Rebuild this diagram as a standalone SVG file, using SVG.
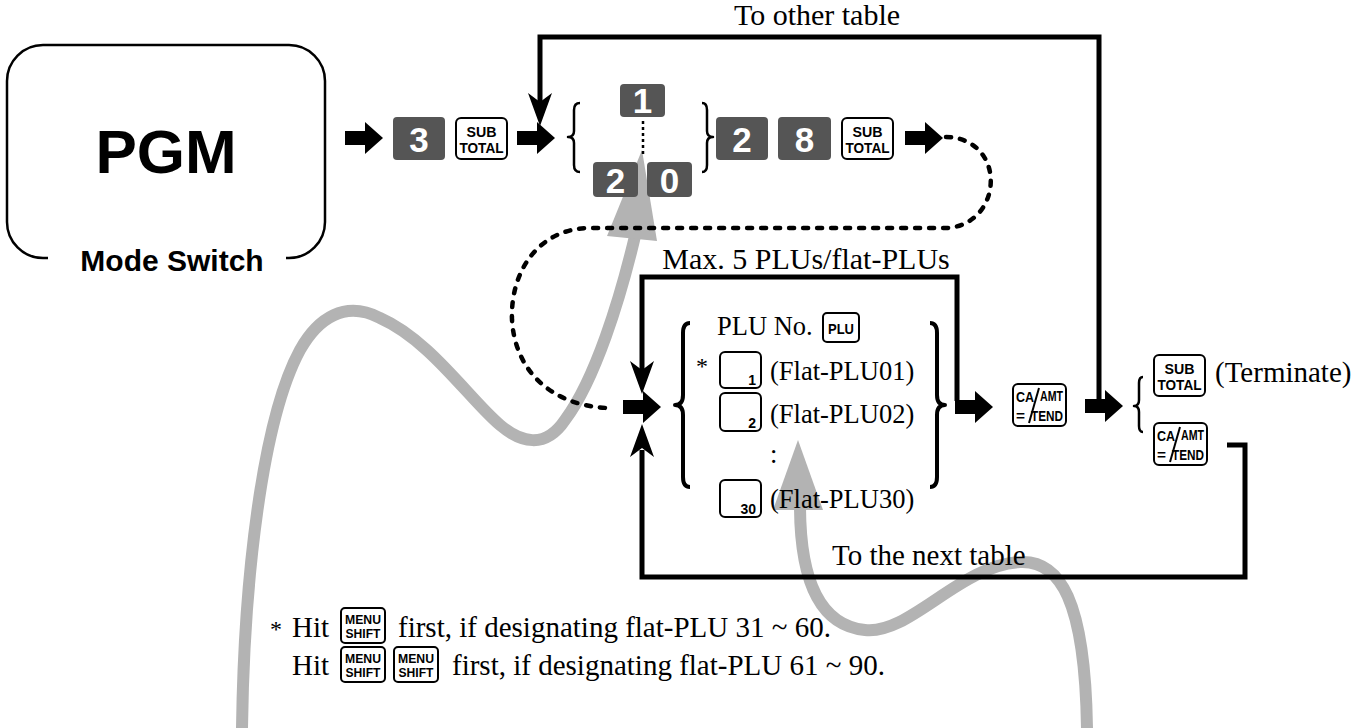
<svg xmlns="http://www.w3.org/2000/svg" xmlns:xlink="http://www.w3.org/1999/xlink" width="1369" height="728" viewBox="0 0 1369 728">
<style>
.ser{font-family:"Liberation Serif","Times New Roman",serif;fill:#000}
.dk{fill:#555}
.dig{font-family:"Liberation Sans",Arial,sans-serif;font-weight:bold;font-size:35px;fill:#fff;text-anchor:middle}
.wk{fill:#fff;stroke:#000;stroke-width:2}
.kl{font-family:"Liberation Sans",Arial,sans-serif;font-weight:bold;fill:#000;text-anchor:middle}
.kls{font-family:"Liberation Sans",Arial,sans-serif;font-weight:bold;fill:#000}
.kn{font-family:"Liberation Sans",Arial,sans-serif;font-weight:bold;font-size:14px;fill:#000;text-anchor:end}
.ln{fill:none;stroke:#000;stroke-width:5}
.br{fill:none;stroke:#000;stroke-width:2.5;stroke-linejoin:round}
.bbr{fill:none;stroke:#000;stroke-width:4;stroke-linejoin:round}
.gray{fill:none;stroke:#b3b3b3;stroke-width:12}
</style>
<defs>
<path id="barrow" d="M0,-7 H20 V-16 L38,0 L20,16 V7 H0 Z" fill="#000"/>
<path id="ahd" d="M0,0 L-12,-33 L0,-24 L12,-33 Z" fill="#000"/>
<g id="subtotal">
<rect x="0" y="0" width="51" height="41" rx="5" class="wk"/>
<text x="25.5" y="19" class="kl" font-size="15" textLength="30" lengthAdjust="spacingAndGlyphs">SUB</text>
<text x="25.5" y="35" class="kl" font-size="15" textLength="44" lengthAdjust="spacingAndGlyphs">TOTAL</text>
</g>
<g id="caamt">
<rect x="0" y="0" width="53" height="42" rx="5" class="wk"/>
<text x="3" y="18" class="kls" font-size="15" textLength="18" lengthAdjust="spacingAndGlyphs">CA</text>
<text x="27" y="17" class="kls" font-size="15" textLength="23" lengthAdjust="spacingAndGlyphs">AMT</text>
<path d="M26,4 L16,39" stroke="#000" stroke-width="2"/>
<text x="3" y="37" class="kls" font-size="15" textLength="9" lengthAdjust="spacingAndGlyphs">=</text>
<text x="18" y="37" class="kls" font-size="15" textLength="32" lengthAdjust="spacingAndGlyphs">TEND</text>
</g>
<g id="menushift">
<rect x="0" y="0" width="44" height="35" rx="4" class="wk"/>
<text x="22" y="16" class="kl" font-size="13" textLength="36" lengthAdjust="spacingAndGlyphs">MENU</text>
<text x="22" y="30" class="kl" font-size="13" textLength="35" lengthAdjust="spacingAndGlyphs">SHIFT</text>
</g>
</defs>
<rect width="1369" height="728" fill="#fff"/>

<g id="connectors">
<path class="gray" d="M242 728 C244 580 262 420 300 350 C318 318 345 300 380 318 C430 340 470 400 500 425 C520 442 545 450 565 420 C595 380 620 300 636 232"/>
<polygon points="642,150 607,236 657,241" fill="#b3b3b3"/>
<path class="gray" d="M1087 728 C1085 600 1060 560 1020 562 C960 565 910 635 865 630 C815 625 800 570 800 505"/>
<polygon points="798,440 773,510 823,510" fill="#b3b3b3"/>
<path class="ln" d="M540 102 V37 H1099 V401"/>
<use xlink:href="#ahd" x="540" y="126"/>
<path class="ln" d="M642 370 V277 H957 V401"/>
<use xlink:href="#ahd" x="642" y="394"/>
<path class="ln" d="M642 450 V577 H1245 V445 H1227"/>
<use xlink:href="#ahd" transform="translate(642,424) rotate(180)"/>
<path d="M946 137 C975 137 995 160 990 190 C985 215 965 228 945 228 L590 228 C540 228 510 270 512 320 C515 370 550 405 607 408" fill="none" stroke="#000" stroke-width="4.5" stroke-dasharray="5 9" stroke-linecap="round"/>
<path d="M643 121 V157" stroke="#000" stroke-width="2.5" stroke-dasharray="3 3"/>
<use xlink:href="#barrow" x="345" y="138"/>
<use xlink:href="#barrow" x="517" y="138"/>
<use xlink:href="#barrow" x="905" y="138"/>
<use xlink:href="#barrow" x="623" y="407"/>
<use xlink:href="#barrow" x="955" y="407"/>
<use xlink:href="#barrow" x="1085" y="406"/>
</g>

<g id="pgm">
<path d="M48 258 H43 A36 36 0 0 1 7 222 V81 A36 36 0 0 1 43 45 H289 A36 36 0 0 1 325 81 V222 A36 36 0 0 1 289 258 H286" fill="none" stroke="#000" stroke-width="2.5"/>
<text x="166" y="173" font-family="Liberation Sans, Arial, sans-serif" font-weight="bold" font-size="62" text-anchor="middle">PGM</text>
<text x="172" y="271" font-family="Liberation Sans, Arial, sans-serif" font-weight="bold" font-size="30" text-anchor="middle">Mode Switch</text>
</g>

<g id="key-3"><rect x="393" y="117" width="52" height="43" rx="4" class="dk"/><text x="419" y="152" class="dig">3</text></g>
<g id="key-subtotal-1"><use xlink:href="#subtotal" x="456" y="118"/></g>

<g id="table-select">
<path class="br" d="M580 103 Q574 103 574 110 V131 Q574 137 568 137 Q574 137 574 143 V165 Q574 172 580 172"/>
<rect x="620" y="84" width="45" height="33" rx="4" class="dk"/><text x="642.5" y="113" class="dig">1</text>
<rect x="593" y="162" width="45" height="35" rx="4" class="dk"/><text x="615.5" y="193" class="dig">2</text>
<rect x="647" y="162" width="45" height="35" rx="4" class="dk"/><text x="669.5" y="193" class="dig">0</text>
<path class="br" d="M702 103 Q707 103 707 110 V131 Q707 137 713 137 Q707 137 707 143 V165 Q707 172 702 172"/>
</g>

<g id="key-28">
<rect x="716" y="117" width="52" height="43" rx="4" class="dk"/><text x="742" y="152" class="dig">2</text>
<rect x="778" y="117" width="53" height="43" rx="4" class="dk"/><text x="804.5" y="152" class="dig">8</text>
</g>
<g id="key-subtotal-2"><use xlink:href="#subtotal" x="842" y="118"/></g>

<g id="labels">
<text x="817" y="25" class="ser" font-size="30" text-anchor="middle">To other table</text>
<text x="806" y="269" class="ser" font-size="30" text-anchor="middle">Max. 5 PLUs/flat-PLUs</text>
<text x="832" y="565" class="ser" font-size="29">To the next table</text>
</g>

<g id="plu-list">
<path class="bbr" d="M690 323 Q683 323 683 333 V395 Q683 405 675 405 Q683 405 683 415 V477 Q683 487 690 487"/>
<text x="717" y="335" class="ser" font-size="26.5">PLU No.</text>
<rect x="823" y="313" width="36" height="29" rx="4" class="wk"/><text x="841" y="334" class="kl" font-size="14" textLength="26" lengthAdjust="spacingAndGlyphs">PLU</text>
<text x="696" y="374" class="ser" font-size="24">*</text>
<rect x="720" y="352" width="41" height="36" rx="5" class="wk"/><text x="756" y="385" class="kn">1</text>
<text x="770" y="380" class="ser" font-size="26.5">(Flat-PLU01)</text>
<rect x="720" y="393" width="41" height="38" rx="5" class="wk"/><text x="756" y="428" class="kn">2</text>
<text x="770" y="423" class="ser" font-size="26.5">(Flat-PLU02)</text>
<text x="770" y="463" class="ser" font-size="26.5">:</text>
<rect x="720" y="480" width="41" height="37" rx="5" class="wk"/><text x="756" y="514" class="kn">30</text>
<text x="770" y="508" class="ser" font-size="26.5">(Flat-PLU30)</text>
<path class="bbr" d="M930 323 Q937 323 937 333 V395 Q937 405 945 405 Q937 405 937 415 V477 Q937 487 930 487"/>
</g>

<g id="key-caamt"><use xlink:href="#caamt" x="1013" y="384"/></g>

<g id="end-choice">
<path class="br" d="M1143 377 Q1139 377 1139 383 V400 Q1139 406 1134 406 Q1139 406 1139 412 V426 Q1139 432 1143 432"/>
<use xlink:href="#subtotal" x="1154" y="355"/>
<text x="1215" y="382" class="ser" font-size="29">(Terminate)</text>
<use xlink:href="#caamt" x="1154" y="423"/>
</g>

<g id="notes">
<text x="270" y="637" class="ser" font-size="24">*</text>
<text x="292" y="637" class="ser" font-size="29">Hit</text>
<use xlink:href="#menushift" x="341" y="608"/>
<text x="398" y="637" class="ser" font-size="29">first, if designating flat-PLU 31 ~ 60.</text>
<text x="292" y="675" class="ser" font-size="29">Hit</text>
<use xlink:href="#menushift" x="341" y="647"/>
<use xlink:href="#menushift" x="394" y="647"/>
<text x="452" y="675" class="ser" font-size="29">first, if designating flat-PLU 61 ~ 90.</text>
</g>
</svg>
